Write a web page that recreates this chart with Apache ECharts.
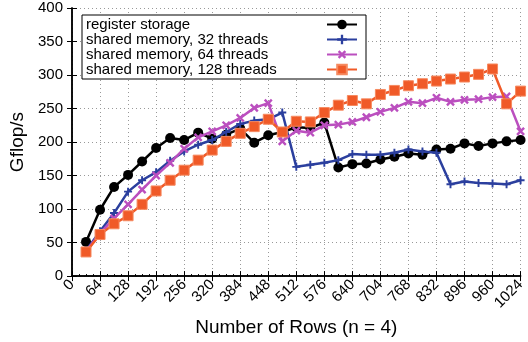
<!DOCTYPE html>
<html>
<head>
<meta charset="utf-8">
<script src="https://cdn.jsdelivr.net/npm/echarts@6/dist/echarts.min.js"></script>
<style>html,body{margin:0;padding:0;background:#fff;}#c{width:528px;height:342px;}</style>
</head>
<body>
<div id="c"></div>
<script>
var rows = [32,64,96,128,160,192,224,256,288,320,352,384,416,448,480,512,544,576,608,640,672,704,736,768,800,832,864,896,928,960,992,1024];
var registerStorage = [51,99,133,151,171,191,206,203,214,205,211,220,199,210,215,222,221,229,162,167,168,174,178,183,181,189,190,198,194,198,201,203];
var shared32 = [38,67,94,126,143,155,172,186,196,203,215,227,232,234,244,163,166,169,173,182,181,181,184,189,186,184,137,141,139,138,137,143];
var shared64 = [37,64,86,107,129,150,169,190,207,216,225,236,251,258,201,217,214,225,226,230,237,245,251,260,258,266,260,263,264,267,268,216];
var shared128 = [36,62,78,90,107,127,143,158,173,188,201,213,223,234,215,231,230,244,255,262,257,271,277,284,287,291,294,297,301,309,257,276];
var seriesNames = ['register storage','shared memory, 32 threads','shared memory, 64 threads','shared memory, 128 threads'];
var xTicks = [0,64,128,192,256,320,384,448,512,576,640,704,768,832,896,960,1024];

function pairs(v){ return rows.map(function(x,i){ return [x, v[i]]; }); }
var plusPath = 'path://M3.8,0H6.2V3.8H10V6.2H6.2V10H3.8V6.2H0V3.8H3.8Z';
var font = '"Liberation Sans", Arial, sans-serif';

var chart = echarts.init(document.getElementById('c'));
var axisLine = {show:true, lineStyle:{color:'#000', width:1.5}};
var grid = {show:true, lineStyle:{color:'#999', type:[1,3], width:1}};
chart.setOption({
  animation:false,
  backgroundColor:'#fff',
  grid:{left:72, right:7, top:8, bottom:61, containLabel:false},
  legend:{
    left:82, top:15, orient:'vertical', align:'right',
    backgroundColor:'#fff', borderColor:'#000', borderWidth:1,
    padding:[2,8,2,4], itemGap:0, itemWidth:30, itemHeight:12,
    data: seriesNames,
    formatter:'{a|{name}}',
    textStyle:{fontFamily:font, fontSize:15, color:'#000', width:236, overflow:'truncate', lineHeight:15,
      rich:{a:{align:'left', fontFamily:font, fontSize:15, color:'#000', lineHeight:15}}}
  },
  xAxis:[{
    type:'value', min:0, max:1024, interval:64,
    name:'Number of Rows (n = 4)', nameLocation:'middle', nameGap:40,
    nameTextStyle:{fontFamily:font, fontSize:19, color:'#000'},
    axisLine:axisLine,
    axisTick:{show:true, inside:true, length:5, lineStyle:{color:'#000'}},
    minorTick:{show:true, splitNumber:4, length:2, lineStyle:{color:'#000'}},
    axisLabel:{rotate:45, fontFamily:font, fontSize:15, color:'#000', margin:6, formatter:function(v){return String(v);}},
    splitLine:grid
  },{
    type:'value', min:0, max:1024, interval:64, position:'top',
    axisLine:axisLine, axisLabel:{show:false},
    axisTick:{show:true, inside:true, length:5, lineStyle:{color:'#000'}},
    splitLine:{show:false}
  }],
  yAxis:[{
    type:'value', min:0, max:400, interval:50,
    name:'Gflop/s', nameLocation:'middle', nameGap:44,
    nameTextStyle:{fontFamily:font, fontSize:19, color:'#000'},
    axisLine:axisLine,
    axisTick:{show:true, inside:true, length:5, lineStyle:{color:'#000'}},
    axisLabel:{fontFamily:font, fontSize:15, color:'#000', margin:9},
    splitLine:grid
  },{
    type:'value', min:0, max:400, interval:50, position:'right',
    axisLine:axisLine, axisLabel:{show:false},
    axisTick:{show:true, inside:true, length:5, lineStyle:{color:'#000'}},
    splitLine:{show:false}
  }],
  series:[
    {name:seriesNames[0], type:'line', data:pairs(registerStorage), symbol:'circle', symbolSize:10,
     lineStyle:{color:'#000', width:2.5}, itemStyle:{color:'#000'}, z:3},
    {name:seriesNames[1], type:'line', data:pairs(shared32), symbol:plusPath, symbolSize:8,
     lineStyle:{color:'#2b3f9e', width:2.5}, itemStyle:{color:'#2b3f9e'}, z:4},
    {name:seriesNames[2], type:'line', data:pairs(shared64), symbol:plusPath, symbolRotate:45, symbolSize:10,
     lineStyle:{color:'#bb4fbf', width:2.5}, itemStyle:{color:'#bb4fbf'}, z:5},
    {name:seriesNames[3], type:'line', data:pairs(shared128), symbol:'rect', symbolSize:10,
     lineStyle:{color:'#f05a28', width:2.5}, itemStyle:{color:'#f05a28', borderColor:'#f68a60', borderWidth:1}, z:6}
  ]
});
</script>
</body>
</html>
